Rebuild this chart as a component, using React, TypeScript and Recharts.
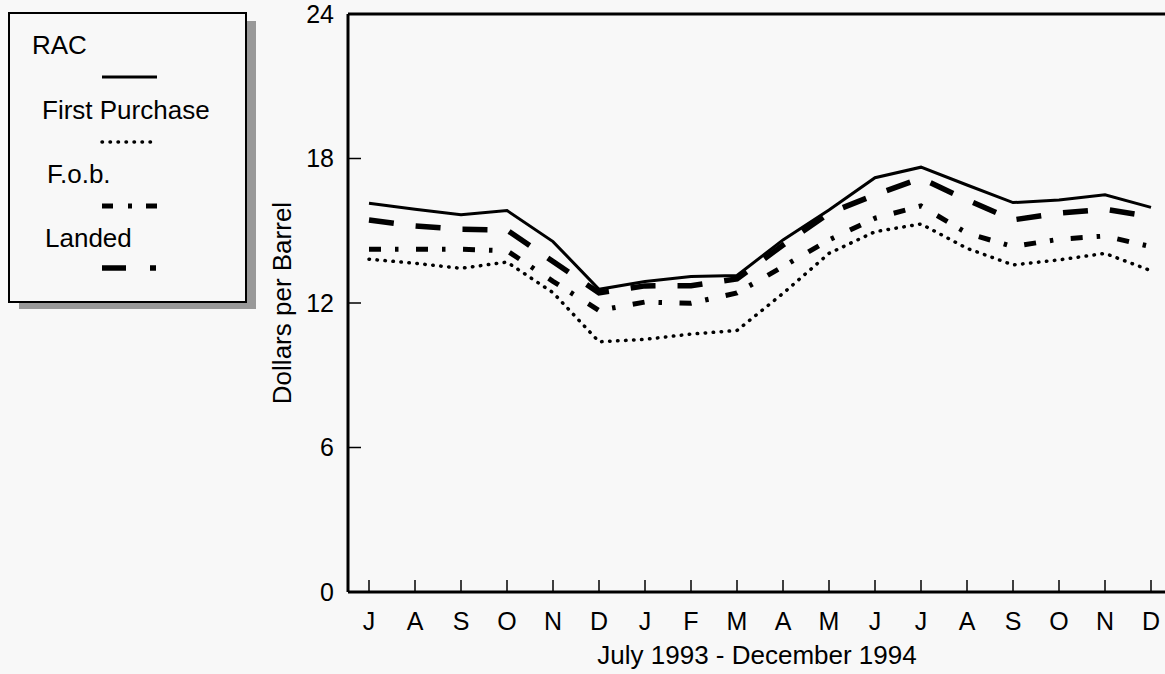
import { LineChart, Line, XAxis, YAxis, ReferenceLine, Legend, Label } from 'recharts';

const FONT = '"Liberation Sans", Arial, Helvetica, sans-serif';
const BG = '#f8f8f8';

// July 1993 - December 1994
const months = [
  '1993-07', '1993-08', '1993-09', '1993-10', '1993-11', '1993-12',
  '1994-01', '1994-02', '1994-03', '1994-04', '1994-05', '1994-06',
  '1994-07', '1994-08', '1994-09', '1994-10', '1994-11', '1994-12',
];
const monthLabels = ['J', 'A', 'S', 'O', 'N', 'D', 'J', 'F', 'M', 'A', 'M', 'J', 'J', 'A', 'S', 'O', 'N', 'D'];

const rac = [16.14, 15.89, 15.66, 15.84, 14.55, 12.57, 12.89, 13.1, 13.14, 14.62, 15.86, 17.2, 17.64, 16.9, 16.17, 16.28, 16.49, 15.97];
const firstPurchase = [13.82, 13.65, 13.44, 13.7, 12.43, 10.39, 10.49, 10.71, 10.86, 12.4, 14.06, 14.96, 15.28, 14.27, 13.58, 13.79, 14.06, 13.34];
const fob = [14.23, 14.23, 14.23, 14.17, 12.9, 11.69, 12.04, 11.99, 12.42, 13.51, 14.62, 15.52, 16.03, 14.9, 14.34, 14.65, 14.78, 14.34];
const landed = [15.45, 15.2, 15.06, 15.03, 13.72, 12.42, 12.71, 12.72, 13.0, 14.41, 15.73, 16.49, 17.18, 16.28, 15.45, 15.73, 15.89, 15.59];

const seriesNames = ['RAC', 'First Purchase', 'F.o.b.', 'Landed'];
const yTicks = [0, 6, 12, 18, 24];

const rows = months.map((m, i) => ({
  m,
  rac: rac[i],
  fp: firstPurchase[i],
  fob: fob[i],
  landed: landed[i],
}));

// line looks, chart + legend sample
const looks = [
  { key: 'rac', width: 3, dash: undefined, cap: 'butt', legendDash: undefined },
  { key: 'fp', width: 3.5, dash: '0.5 7.5', cap: 'round', legendDash: '0.5 7.5' },
  { key: 'fob', width: 5, dash: '12 14 3.5 17.5', cap: 'butt', legendDash: '11 15 4 14 11' },
  { key: 'landed', width: 5.5, dash: '25 22', cap: 'butt', legendDash: '24 24 6' },
];

// legend rows: text x, text baseline, sample y
const legendRows = [
  { tx: 32, ty: 54, sy: 77 },
  { tx: 42, ty: 119, sy: 142 },
  { tx: 47, ty: 183, sy: 206 },
  { tx: 45, ty: 247, sy: 268 },
];

function LegendBox() {
  return (
    <svg width={270} height={320} style={{ display: 'block' }}>
      <rect x={19} y={21} width={237} height={288} fill="#999" />
      <rect x={9} y={13} width={237} height={289} fill={BG} stroke="#000" strokeWidth={2} />
      {seriesNames.map((name, i) => (
        <g key={name}>
          <text x={legendRows[i].tx} y={legendRows[i].ty} fontSize={26} fontFamily={FONT} fill="#000">
            {name}
          </text>
          <line
            x1={102}
            x2={i === 3 ? 156 : 157}
            y1={legendRows[i].sy}
            y2={legendRows[i].sy}
            stroke="#000"
            strokeWidth={looks[i].width}
            strokeDasharray={looks[i].legendDash}
            strokeLinecap={looks[i].cap as any}
          />
        </g>
      ))}
    </svg>
  );
}

export default function App() {
  return (
    <div
      style={{
        position: 'absolute',
        left: 0,
        top: 0,
        width: 1165,
        height: 674,
        overflow: 'hidden',
        background: BG,
        fontFamily: FONT,
      }}
    >
      <LineChart width={1172} height={674} data={rows} margin={{ top: 14, right: 6, bottom: 2, left: 0 }}>
        <XAxis
          dataKey="m"
          interval={0}
          padding={{ left: 21, right: 15 }}
          height={80}
          tickSize={-12}
          tickMargin={32}
          fontSize={25}
          tickFormatter={(_v: string, i: number) => monthLabels[i]}
          tick={{ fill: '#000', fontSize: 25, fontFamily: FONT }}
          axisLine={{ stroke: '#000', strokeWidth: 3 }}
          tickLine={{ stroke: '#000', strokeWidth: 1.5 }}
        >
          <Label value="July 1993 - December 1994" position="insideBottom" offset={8} fill="#000" fontSize={26} fontFamily={FONT} />
        </XAxis>
        <YAxis
          domain={[0, 24]}
          ticks={yTicks}
          width={348}
          tickSize={-13}
          tickMargin={27}
          fontSize={25}
          tick={{ fill: '#000', fontSize: 25, fontFamily: FONT }}
          axisLine={{ stroke: '#000', strokeWidth: 3 }}
          tickLine={{ stroke: '#000', strokeWidth: 1.5 }}
        >
          <Label
            content={({ viewBox }: any) => {
              const cx = viewBox.x + viewBox.width - 66;
              const cy = viewBox.y + viewBox.height / 2;
              return (
                <text
                  x={cx}
                  y={cy}
                  transform={`rotate(-90, ${cx}, ${cy})`}
                  textAnchor="middle"
                  dominantBaseline="central"
                  fontSize={26}
                  fontFamily={FONT}
                  fill="#000"
                >
                  Dollars per Barrel
                </text>
              );
            }}
          />
        </YAxis>
        <ReferenceLine y={24} stroke="#000" strokeWidth={3} />
        <Legend
          layout="vertical"
          align="center"
          verticalAlign="middle"
          wrapperStyle={{ left: 0, top: 0, width: 270, height: 320 }}
          content={() => <LegendBox />}
        />
        {looks.map((l, i) => (
          <Line
            key={l.key}
            name={seriesNames[i]}
            dataKey={l.key}
            type="linear"
            stroke="#000"
            strokeWidth={l.width}
            strokeDasharray={l.dash}
            strokeLinecap={l.cap as any}
            dot={false}
            activeDot={false}
            isAnimationActive={false}
          />
        ))}
      </LineChart>
    </div>
  );
}
